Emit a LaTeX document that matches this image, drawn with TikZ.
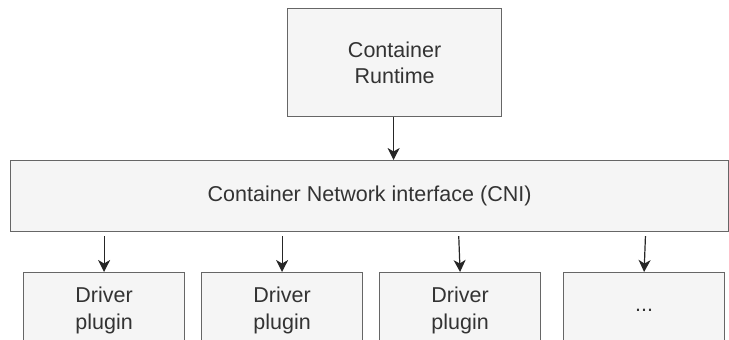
\documentclass[tikz,border=0pt]{standalone}
\usepackage{fontspec}
\setmainfont{Liberation Sans}
\usetikzlibrary{arrows.meta,calc}
\definecolor{boxfill}{HTML}{F5F5F5}
\definecolor{boxline}{HTML}{666666}
\definecolor{boxtext}{HTML}{333333}
\tikzset{
  block/.style={draw=boxline, fill=boxfill, line width=1.2pt, text=boxtext,
    align=center, inner sep=0pt, anchor=north west,
    font=\fontsize{21.5}{26.5}\selectfont},
  link/.style={draw=black!85, line width=1.2pt,
    -{Stealth[length=12pt,width=12pt,inset=3.5pt]}},
}
\begin{document}
\begin{tikzpicture}[x=1pt,y=-1pt]
  \useasboundingbox (0,0) rectangle (729,340);
  \clip (0,0) rectangle (729,340);
  % runtime on top
  \node[block, minimum width=214pt, minimum height=108pt] (rt) at (287,8)
    {Container\\Runtime};
  % interface layer
  \node[block, minimum width=718pt, minimum height=71pt] (cni) at (10,160)
    {Container Network interface (CNI)};
  % plugins below
  \node[block, minimum width=161pt, minimum height=76pt] (d1) at (23,272) {Driver\\plugin};
  \node[block, minimum width=161pt, minimum height=76pt] (d2) at (201,272) {Driver\\plugin};
  \node[block, minimum width=161pt, minimum height=76pt] (d3) at (379,272) {Driver\\plugin};
  \node[block, minimum width=161pt, minimum height=76pt] (d4) at (563,272) {...};
  % connectors
  \draw[link] ([xshift=-1pt]rt.south) -- ([xshift=-1pt]rt.south |- cni.north);
  \draw[link, shorten <=4pt] (d1.north |- cni.south) -- (d1.north);
  \draw[link, shorten <=4pt] (d2.north |- cni.south) -- (d2.north);
  \draw[link, shorten <=4pt] ([xshift=-1.5pt]d3.north |- cni.south) -- (d3.north);
  \draw[link, shorten <=4pt] ([xshift=1.5pt]d4.north |- cni.south) -- (d4.north);
\end{tikzpicture}
\end{document}
